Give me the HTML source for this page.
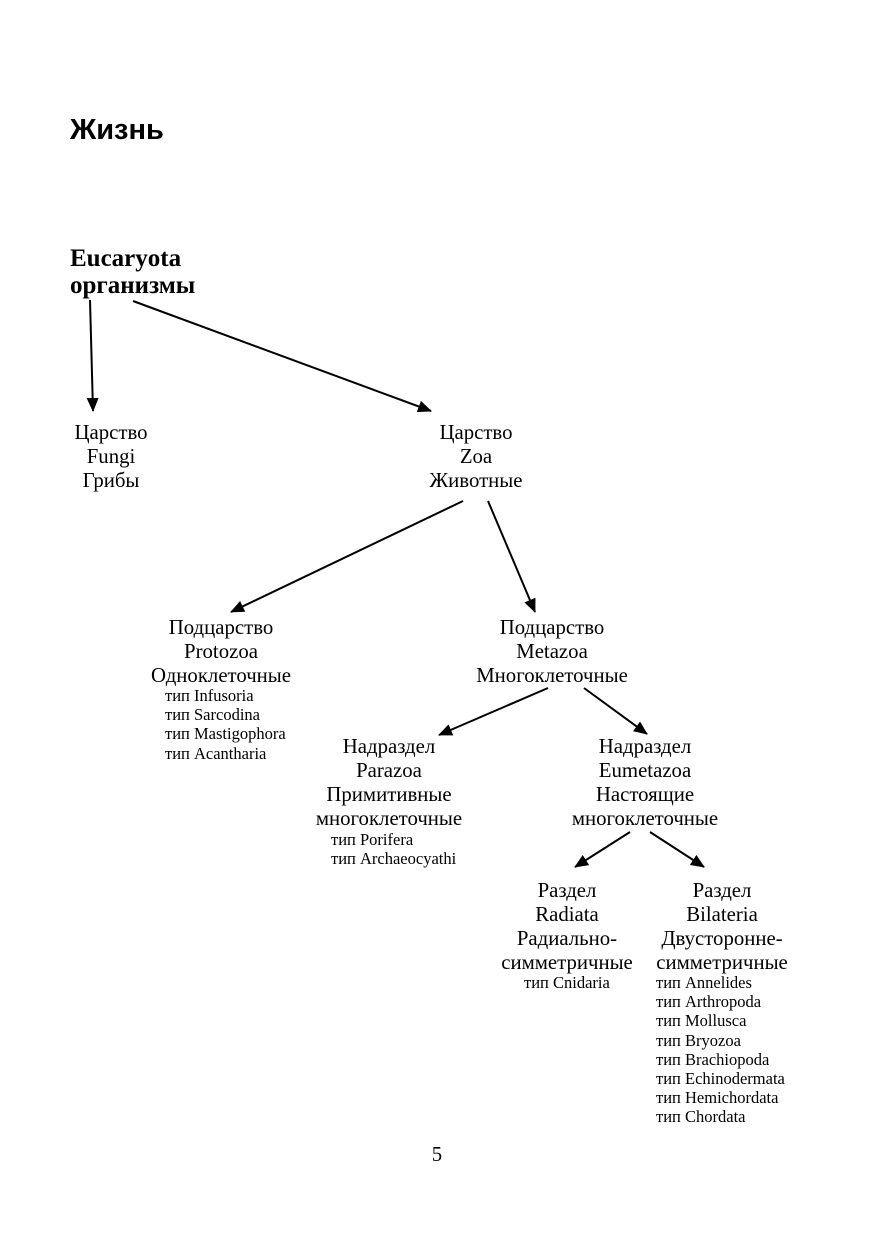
<!DOCTYPE html>
<html><head><meta charset="utf-8"><style>
body{margin:0;background:#fff;}
#p{position:relative;width:875px;height:1241px;overflow:hidden;font-family:"Liberation Serif",serif;color:#000;}
.t{position:absolute;font-size:20.8px;line-height:24px;text-align:center;white-space:nowrap;transform:translateX(-50%);}
.s{position:absolute;font-size:16.5px;line-height:19.2px;white-space:nowrap;}
</style></head><body><div id="p">
<div style="position:absolute;left:70px;top:113px;font-family:'Liberation Sans',sans-serif;font-weight:bold;font-size:29px;line-height:34px;">Жизнь</div>
<div style="position:absolute;left:70px;top:245px;font-weight:bold;font-size:25px;line-height:27px;">Eucaryota<br>организмы</div>
<svg width="875" height="1241" style="position:absolute;left:0;top:0">
<defs><marker id="b" markerWidth="14" markerHeight="12" refX="13" refY="6" orient="auto" markerUnits="userSpaceOnUse"><path d="M0,0 L14,6 L0,12 z" fill="#000"/></marker></defs>
<g stroke="#000" stroke-width="2" fill="none">
<line x1="90" y1="300" x2="93" y2="411" marker-end="url(#b)"/>
<line x1="133" y1="301" x2="431" y2="411" marker-end="url(#b)"/>
<line x1="463" y1="501" x2="231" y2="612" marker-end="url(#b)"/>
<line x1="488" y1="501" x2="535" y2="612" marker-end="url(#b)"/>
<line x1="548" y1="688" x2="439" y2="735" marker-end="url(#b)"/>
<line x1="584" y1="688" x2="647" y2="734" marker-end="url(#b)"/>
<line x1="630" y1="832" x2="575" y2="867" marker-end="url(#b)"/>
<line x1="650" y1="832" x2="704" y2="867" marker-end="url(#b)"/>
</g></svg>
<div class="t" style="left:111px;top:421px">Царство<br>Fungi<br>Грибы</div>
<div class="t" style="left:476px;top:421px">Царство<br>Zoa<br>Животные</div>
<div class="t" style="left:221px;top:616px">Подцарство<br>Protozoa<br>Одноклеточные</div>
<div class="s" style="left:165px;top:686px">тип Infusoria<br>тип Sarcodina<br>тип Mastigophora<br>тип Acantharia</div>
<div class="t" style="left:552px;top:616px">Подцарство<br>Metazoa<br>Многоклеточные</div>
<div class="t" style="left:389px;top:735px">Надраздел<br>Parazoa<br>Примитивные<br>многоклеточные</div>
<div class="s" style="left:331px;top:830px">тип Porifera<br>тип Archaeocyathi</div>
<div class="t" style="left:645px;top:735px">Надраздел<br>Eumetazoa<br>Настоящие<br>многоклеточные</div>
<div class="t" style="left:567px;top:879px">Раздел<br>Radiata<br>Радиально-<br>симметричные</div>
<div class="s" style="left:524px;top:973px">тип Cnidaria</div>
<div class="t" style="left:722px;top:879px">Раздел<br>Bilateria<br>Двусторонне-<br>симметричные</div>
<div class="s" style="left:656px;top:973px">тип Annelides<br>тип Arthropoda<br>тип Mollusca<br>тип Bryozoa<br>тип Brachiopoda<br>тип Echinodermata<br>тип Hemichordata<br>тип Chordata</div>
<div class="t" style="left:437px;top:1143px">5</div>
</div></body></html>
